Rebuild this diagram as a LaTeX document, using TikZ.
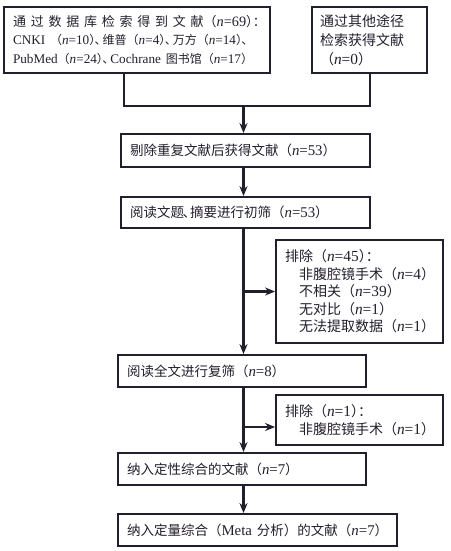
\documentclass[tikz,border=0pt]{standalone}
\usepackage{fontspec}
\setmainfont{Liberation Serif}[Scale=1.1]
\newfontfamily\cjk{Noto Sans CJK SC}
\usetikzlibrary{arrows.meta}
\definecolor{lc}{HTML}{231E2D}
\newcommand\zh[1]{{\cjk #1}}
\newcommand\nn[1]{\zh{（}\textit{n}=#1\zh{）}}
\newcommand\dun{\kern-.5em\zh{、}\kern-.3em}
\newcommand\mh{\kern-.45em\zh{：}}
\begin{document}
\begin{tikzpicture}[x=1pt,y=-1pt,
  box/.style={draw=lc, text=lc, line width=1.8pt, inner xsep=9pt, inner ysep=0pt,
    align=left, font=\fontsize{13.5}{17}\selectfont},
  link/.style={draw=lc, line width=2.2pt},
  arr/.style={link, -{Stealth[length=10pt,width=8pt]}}]
\useasboundingbox (0,0) rectangle (450,551);
\node[box, minimum width=266pt, minimum height=66pt, text width=248pt,
  font=\fontsize{13}{18.5}\selectfont] (b1) at (137,40)
  {\makebox[248pt][s]{\zh{通 过 数 据 库 检 索 得 到 文 献（}\textit{n}=69\zh{）}\mh}\\
   \mbox{\fontsize{12}{18.5}\selectfont CNKI \nn{10}\dun\zh{维普}\nn{4}\dun\zh{万方}\nn{14}\kern-.5em\zh{、}}\\
   \mbox{\fontsize{12}{18.5}\selectfont PubMed\nn{24}\dun Cochrane \zh{图书馆}\nn{17}}};
\node[box, inner xsep=8pt, minimum width=115pt, minimum height=66pt, text width=99pt,
  font=\fontsize{14}{19}\selectfont] (b2) at (369.5,40)
  {\zh{通过其他途径}\\ \zh{检索获得文献}\\ \nn{0}};
\node[box, minimum width=249pt, minimum height=33pt, text width=231pt] (b3) at (245.5,150.5)
  {\mbox{\zh{剔除重复文献后获得文献}\nn{53}}};
\node[box, minimum width=249pt, minimum height=31pt, text width=231pt] (b4) at (245.5,212.5)
  {\mbox{\zh{阅读文题}\kern-.1em\zh{、}\kern-.4em\zh{摘要进行初筛}\nn{53}}};
\node[box, minimum width=167pt, minimum height=103pt, text width=149pt,
  font=\fontsize{14}{17.5}\selectfont] (e1) at (359.5,291.5)
  {\mbox{\zh{排除}\nn{45}\mh}\\
   \mbox{\hspace*{14pt}\zh{非腹腔镜手术}\nn{4}}\\
   \mbox{\hspace*{14pt}\zh{不相关}\nn{39}}\\
   \mbox{\hspace*{14pt}\zh{无对比}\nn{1}}\\
   \mbox{\hspace*{14pt}\zh{无法提取数据}\nn{1}}};
\node[box, minimum width=248pt, minimum height=32pt, text width=230pt] (b5) at (242,371)
  {\mbox{\zh{阅读全文进行复筛}\nn{8}}};
\node[box, minimum width=167pt, minimum height=50pt, text width=149pt,
  font=\fontsize{14}{17.5}\selectfont] (e2) at (359.5,420)
  {\mbox{\zh{排除}\nn{1}\mh}\\
   \mbox{\hspace*{14pt}\zh{非腹腔镜手术}\nn{1}}};
\node[box, minimum width=248pt, minimum height=32pt, text width=230pt] (b6) at (242,469)
  {\mbox{\zh{纳入定性综合的文献}\nn{7}}};
\node[box, minimum width=279pt, minimum height=32pt, text width=261pt] (b7) at (257.5,530)
  {\mbox{\zh{纳入定量综合（}Meta \zh{分析）的文献}\nn{7}}};
\coordinate (k1) at (124,106);
\coordinate (k2) at (370,106);
\coordinate (m1) at (243.5,106);
\coordinate (h2) at (243.5,427);
\draw[link] (b1.south -| k1) -- (k1) -- (k2) -- (b2.south -| k2);
\draw[arr] (m1) -- (b3.north -| m1);
\draw[arr] (b3.south -| m1) -- (b4.north -| m1);
\draw[arr] (b4.south -| m1) -- (b5.north -| m1);
\draw[arr] (e1.west -| m1) -- (e1.west);
\draw[arr] (b5.south -| m1) -- (b6.north -| m1);
\draw[arr] (h2) -- (e2.west |- h2);
\draw[arr] (b6.south -| m1) -- (b7.north -| m1);
\end{tikzpicture}
\end{document}
